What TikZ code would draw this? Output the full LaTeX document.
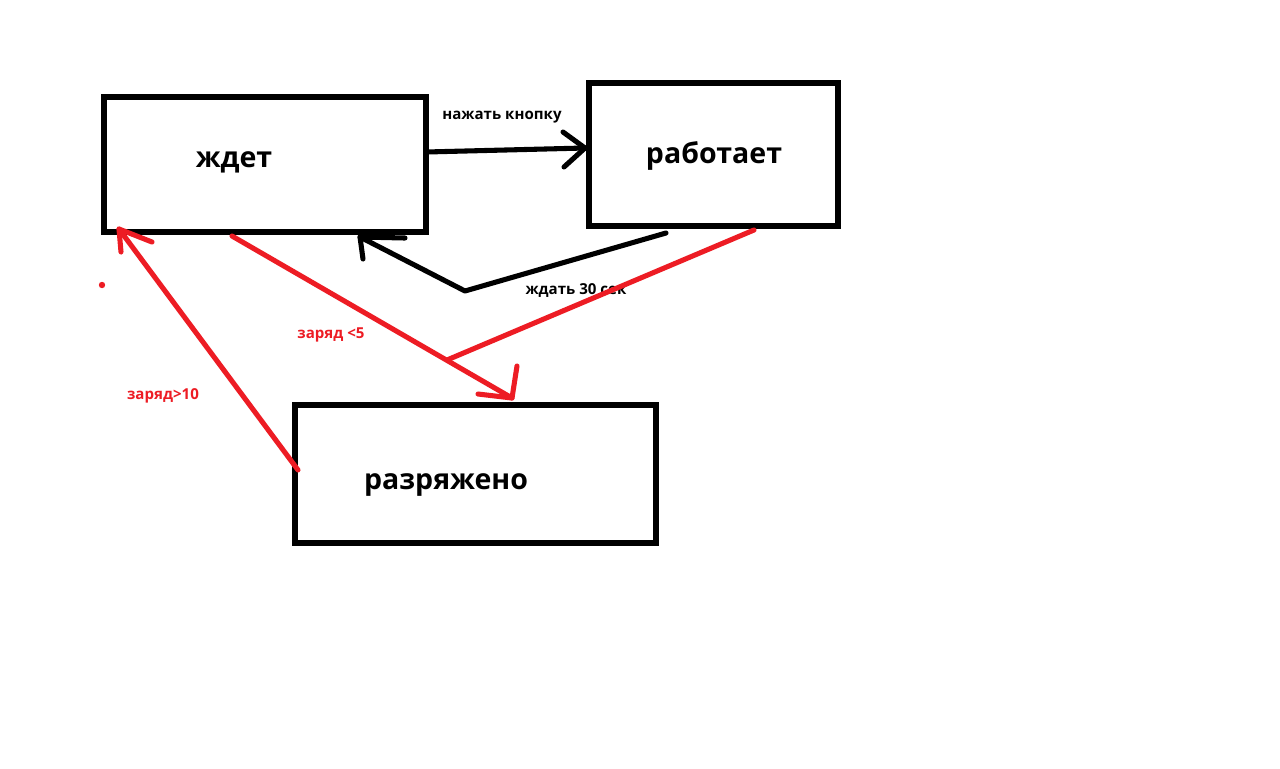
\documentclass[tikz,border=0pt]{standalone}
\usepackage{fontspec}
\setmainfont{Open Sans}
\definecolor{pred}{HTML}{ED1C24}
\begin{document}
\begin{tikzpicture}[x=0.75pt,y=-0.75pt,
  box/.style={draw=black,line width=3.8pt,minimum width=0pt},
  big/.style={font=\bfseries\fontsize{21.4}{25}\selectfont},
  small/.style={font=\bfseries\fontsize{11.3}{13}\selectfont},
  bl/.style={draw=black,line width=3.8pt,line cap=round,line join=round},
  rd/.style={draw=pred,line width=3.8pt,line cap=round,line join=round}]
\useasboundingbox[fill=white] (0,0) rectangle (1280,768);
% boxes
\draw[box] (104,97) rectangle (426,232);
\draw[box] (589,83) rectangle (838,226);
\draw[box] (295,405) rectangle (656,543);
\node[big] (t1) at (234,162) {ждет};
\node[big] (t2) at (714,156) {работает};
\node[big] (t3) at (446,485) {разряжено};
% labels
\node[small] (l1) at (502,117) {нажать кнопку};
\node[small] (l2) at (576,291) {ждать 30 сек};
\node[small,text=pred] (l3) at (331,335) {заряд <5};
\node[small,text=pred] (l4) at (163,396) {заряд>10};
% coordinates
\coordinate (a1s) at (426,152);
\coordinate (a1e) at (585,148);
\coordinate (a2s) at (666,233);
\coordinate (a2m) at (465,291);
\coordinate (a2e) at (360,237);
\coordinate (a3s) at (232,236);
\coordinate (a3e) at (512,398);
\coordinate (a4s) at (754,230);
\coordinate (a4e) at (447,360);
\coordinate (a5s) at (298,470);
\coordinate (a5e) at (119,229);
% black arrows
\draw[bl] (a1s) -- (a1e);
\draw[bl] (563,132) -- (a1e) -- (564,167);
\draw[bl] (a2s) -- (a2m) -- (a2e);
\draw[bl] (405,238) -- (a2e) -- (363,259);
% red arrows
\draw[rd] (a3s) -- (a3e);
\draw[rd] (478,394) -- (a3e) -- (517,366);
\draw[rd] (a4s) -- (a4e);
\draw[rd] (a5s) -- (a5e);
\draw[rd] (152,242) -- (a5e) -- (121,252);
\fill[pred] (102,285) circle (3.2);
\end{tikzpicture}
\end{document}
